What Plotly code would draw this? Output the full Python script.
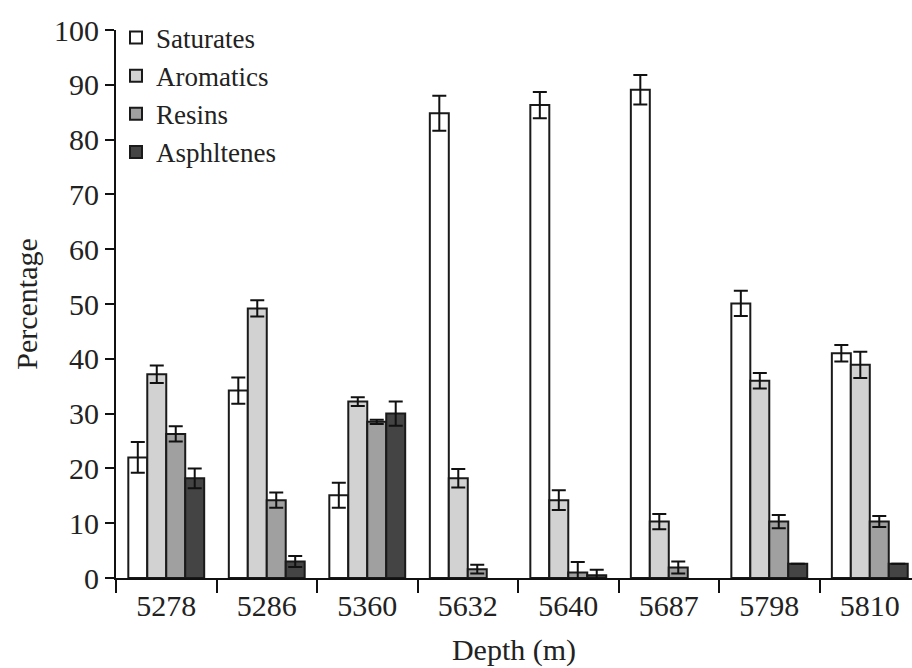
import plotly.graph_objects as go

depths = ["5278", "5286", "5360", "5632", "5640", "5687", "5798", "5810"]
series_names = ["Saturates", "Aromatics", "Resins", "Asphltenes"]

saturates = [22.0, 34.2, 15.1, 84.8, 86.3, 89.1, 50.1, 41.0]
saturates_err = [2.8, 2.4, 2.3, 3.2, 2.4, 2.7, 2.3, 1.5]

aromatics = [37.2, 49.2, 32.2, 18.2, 14.2, 10.3, 36.0, 38.9]
aromatics_err = [1.6, 1.5, 0.8, 1.7, 1.8, 1.4, 1.4, 2.4]

resins = [26.3, 14.2, 28.5, 1.6, 1.0, 1.9, 10.3, 10.3]
resins_err = [1.4, 1.4, 0.4, 0.8, 1.9, 1.1, 1.2, 1.0]

asphaltenes = [18.2, 3.0, 30.0, None, 0.5, None, 2.6, 2.6]
asphaltenes_err = [1.8, 1.0, 2.2, None, 1.0, None, None, None]

values = [saturates, aromatics, resins, asphaltenes]
errors = [saturates_err, aromatics_err, resins_err, asphaltenes_err]
colors = ["#ffffff", "#d2d2d2", "#a0a0a0", "#444444"]

FONT = "Times New Roman, Liberation Serif, serif"
fig = go.Figure()
for name, vals, errs, col in zip(series_names, values, errors, colors):
    fig.add_trace(go.Bar(
        name=name, x=depths, y=vals,
        marker=dict(color=col, line=dict(color="#1a1a1a", width=2)),
        error_y=dict(type="data", array=errs, visible=True, color="#111111",
                     thickness=2, width=7),
    ))

fig.update_layout(
    width=912, height=668,
    margin=dict(l=116, r=0, t=30, b=90),
    paper_bgcolor="white", plot_bgcolor="white",
    barmode="group", bargap=0.245, bargroupgap=0,
    font=dict(family=FONT, size=30, color="#222222"),
    showlegend=True,
    legend=dict(x=0.0, y=1.03, xanchor="left", yanchor="top",
                bgcolor="rgba(0,0,0,0)", font=dict(family=FONT, size=27),
                tracegroupgap=0, itemwidth=30),
    xaxis=dict(
        range=[-0.5, 7.42], showline=True, linecolor="#111111", linewidth=2,
        ticks="outside", tickson="boundaries", ticklen=13, tickwidth=2,
        tickcolor="#111111", showgrid=False, zeroline=False,
        tickfont=dict(family=FONT, size=30),
        title=dict(text="Depth (m)", font=dict(family=FONT, size=30), standoff=18),
    ),
    yaxis=dict(
        range=[0, 100], dtick=10, showline=True, linecolor="#111111", linewidth=2,
        ticks="outside", ticklen=9, tickwidth=2, tickcolor="#111111",
        showgrid=False, zeroline=False,
        tickfont=dict(family=FONT, size=30),
        title=dict(text="Percentage", font=dict(family=FONT, size=30), standoff=8),
    ),
)

fig.write_html("out.html")
